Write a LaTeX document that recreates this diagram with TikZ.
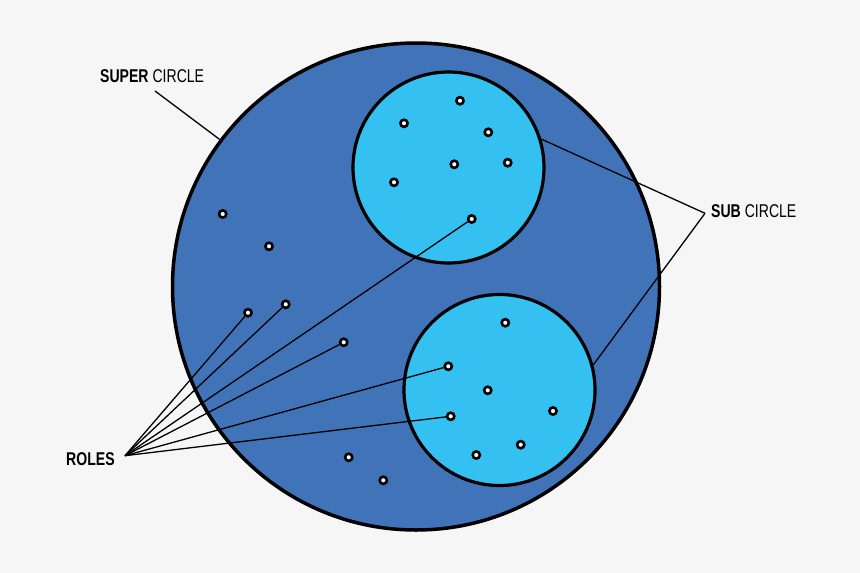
\documentclass[tikz,border=0pt]{standalone}
\usepackage{fontspec}
\newfontfamily\labelfont[FakeStretch=0.76]{Liberation Sans}
\usepackage{xcolor}
\definecolor{cBack}{HTML}{F6F6F6}
\definecolor{cSuper}{HTML}{4173B8}
\definecolor{cSub}{HTML}{34C1F1}
\usepackage{tikz}
\usetikzlibrary{positioning}
\tikzset{
  super-circle/.style={draw=black,line width=3.5pt,fill=cSuper,circle,
    inner sep=0pt,minimum size=487pt},
  sub-circle/.style={draw=black,line width=3.2pt,fill=cSub,circle,
    inner sep=0pt,minimum size=191pt},
  role-dot/.style={draw=black,line width=2.6pt,fill=white,circle,
    inner sep=0pt,minimum size=7.2pt},
  label-text/.style={inner sep=0pt,anchor=base west,
    font=\labelfont\fontsize{18.5}{20}\selectfont},
  leader/.style={draw=black,line width=1.3pt},
}

\begin{document}
\begin{tikzpicture}[x=1pt,y=-1pt]
  % canvas, same size as the reference
  \fill[cBack] (0,0) rectangle (860,573);
  \useasboundingbox (0,0) rectangle (860,573);
  % circles
  \node[super-circle] (super) at (416,286.5) {};
  \node[sub-circle]   (subA)  at (448.5,167.5) {};
  \node[sub-circle]   (subB)  at (499.5,390) {};
  % roles in the super circle
  \node[role-dot] (r1) at (222.7,214) {};
  \node[role-dot] (r2) at (269,246.3) {};
  \node[role-dot] (r3) at (248,312.7) {};
  \node[role-dot] (r4) at (285.7,304.3) {};
  \node[role-dot] (r5) at (343.7,342.3) {};
  \node[role-dot] (r6) at (348.7,457.3) {};
  \node[role-dot] (r7) at (383.3,480.3) {};
  % roles in the upper sub circle
  \node[role-dot] (a1) at (460,100.7) {};
  \node[role-dot] (a2) at (404,123.3) {};
  \node[role-dot] (a3) at (488.3,132.3) {};
  \node[role-dot] (a4) at (454.3,164.3) {};
  \node[role-dot] (a5) at (507.7,162.7) {};
  \node[role-dot] (a6) at (394,182.3) {};
  \node[role-dot] (a7) at (471.7,219) {};
  % roles in the lower sub circle
  \node[role-dot] (b1) at (505.3,322.7) {};
  \node[role-dot] (b2) at (448.3,366.3) {};
  \node[role-dot] (b3) at (487.7,390.3) {};
  \node[role-dot] (b4) at (450.7,416.3) {};
  \node[role-dot] (b5) at (553,411) {};
  \node[role-dot] (b6) at (520.7,444.7) {};
  \node[role-dot] (b7) at (476.3,455) {};
  % labels
  \node[label-text] (lsuper) at (100,82)    {\textbf{SUPER} CIRCLE};
  \node[label-text] (lsub)   at (711,217.5) {\textbf{SUB} CIRCLE};
  \node[label-text] (lroles) at (66,465.5)  {\textbf{ROLES}};
  \coordinate (psuper) at (155,91);
  \coordinate (psub)   at (705,213.3);
  \coordinate (proles) at (125,455.7);
  % leader lines
  \draw[leader] (psuper) -- (super);
  \draw[leader] (psub) -- (subA.17.6);
  \draw[leader] (psub) -- (subB.15.5);
  \foreach \d in {r3,r4,a7,r5,b2,b4}
    \draw[leader] (proles) -- (\d);
\end{tikzpicture}
\end{document}
